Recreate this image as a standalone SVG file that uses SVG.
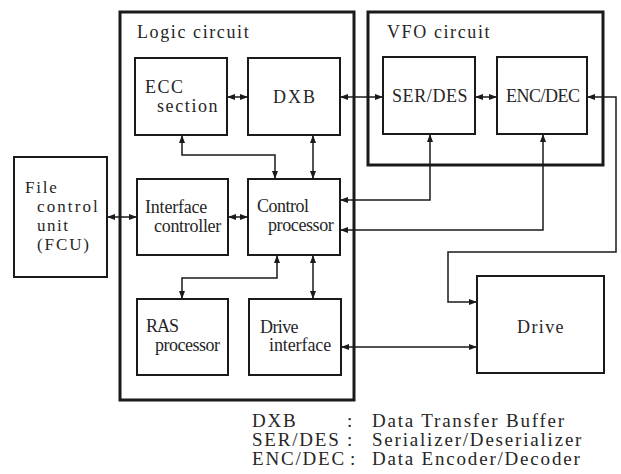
<svg xmlns="http://www.w3.org/2000/svg" width="621" height="474" viewBox="0 0 621 474">
<style>
.bg{fill:#fff}
.box{fill:none;stroke:#1a1a1a;stroke-width:2}
.cont{fill:none;stroke:#1a1a1a;stroke-width:3}
.t{font-family:"Liberation Serif","Times New Roman",serif;font-size:18px;fill:#262626}
.tf{font-family:"Liberation Serif","Times New Roman",serif;font-size:17px;fill:#262626}
.ti{font-family:"Liberation Serif","Times New Roman",serif;font-size:18px;fill:#262626;letter-spacing:1.6px}
.lg{font-family:"Liberation Serif","Times New Roman",serif;font-size:19px;fill:#262626;letter-spacing:1.8px}
.c{fill:none;stroke:#1a1a1a;stroke-width:1.5;marker-start:url(#ah);marker-end:url(#ah)}
</style>
<defs>
<marker id="ah" viewBox="0 0 8 6" refX="8" refY="3" markerWidth="8" markerHeight="6" markerUnits="userSpaceOnUse" orient="auto-start-reverse">
<path d="M0,0 L8,3 L0,6 z" fill="#1a1a1a"/>
</marker>
</defs>
<rect class="bg" x="0" y="0" width="621" height="474"/>

<g id="logic-circuit">
<rect class="cont" x="120" y="12" width="234" height="388"/>
<text class="ti" x="137" y="38">Logic circuit</text>
</g>
<g id="vfo-circuit">
<rect class="cont" x="368" y="12" width="235" height="153"/>
<text class="ti" x="387" y="38">VFO circuit</text>
</g>
<g id="ecc">
<rect class="box" x="135" y="58" width="92" height="77"/>
<text class="t" x="145" y="93" letter-spacing="1.5">ECC</text>
<text class="t" x="157" y="112" letter-spacing="1.6">section</text>
</g>
<g id="dxb">
<rect class="box" x="248" y="58" width="92" height="77"/>
<text class="t" x="273" y="103" letter-spacing="2">DXB</text>
</g>
<g id="serdes">
<rect class="box" x="383" y="57" width="92" height="77"/>
<text class="t" x="392" y="102" letter-spacing="0.6">SER/DES</text>
</g>
<g id="encdec">
<rect class="box" x="497" y="57" width="90" height="77"/>
<text class="t" x="506" y="102" letter-spacing="-0.5">ENC/DEC</text>
</g>
<g id="fcu">
<rect class="box" x="14" y="157" width="93" height="120"/>
<text class="tf" x="25" y="193" letter-spacing="1.8">File</text>
<text class="tf" x="37" y="212" letter-spacing="2.1">control</text>
<text class="tf" x="37" y="231" letter-spacing="1.5">unit</text>
<text class="tf" x="37" y="250" letter-spacing="1.9">(FCU)</text>
</g>
<g id="interface-controller">
<rect class="box" x="137" y="179" width="91" height="76"/>
<text class="t" x="145" y="213" letter-spacing="-0.2">Interface</text>
<text class="t" x="154" y="232" letter-spacing="-0.3">controller</text>
</g>
<g id="control-processor">
<rect class="box" x="248" y="179" width="92" height="76"/>
<text class="t" x="257" y="212" letter-spacing="-0.5">Control</text>
<text class="t" x="268" y="231" letter-spacing="-0.4">processor</text>
</g>
<g id="ras">
<rect class="box" x="137" y="299" width="91" height="76"/>
<text class="t" x="146" y="332" letter-spacing="-1">RAS</text>
<text class="t" x="155" y="351" letter-spacing="-0.5">processor</text>
</g>
<g id="drive-interface">
<rect class="box" x="249" y="299" width="92" height="76"/>
<text class="t" x="260" y="333" letter-spacing="-0.6">Drive</text>
<text class="t" x="269" y="351" letter-spacing="-0.1">interface</text>
</g>
<g id="drive">
<rect class="box" x="477" y="276" width="127" height="97"/>
<text class="t" x="517" y="333" letter-spacing="1.4">Drive</text>
</g>

<g id="connectors">
<path class="c" d="M227,97 H248"/>
<path class="c" d="M340,97 H383"/>
<path class="c" d="M475,97 H497"/>
<path class="c" d="M587,97 H616 V252 H448 V302 H477"/>
<path class="c" d="M313,135 V179"/>
<path class="c" d="M182,135 V155 H275 V179"/>
<path class="c" d="M107,217 H137"/>
<path class="c" d="M228,217 H248"/>
<path class="c" d="M430,134 V200 H340"/>
<path class="c" d="M543,134 V230 H340"/>
<path class="c" d="M277,255 V278 H182 V299"/>
<path class="c" d="M313,255 V299"/>
<path class="c" d="M341,347 H477"/>
</g>

<g id="legend">
<text class="lg" x="252" y="427">DXB</text>
<text class="lg" x="347" y="427">:</text>
<text class="lg" x="372" y="427">Data Transfer Buffer</text>
<text class="lg" x="252" y="446">SER/DES</text>
<text class="lg" x="347" y="446">:</text>
<text class="lg" x="372" y="446">Serializer/Deserializer</text>
<text class="lg" x="252" y="465">ENC/DEC</text>
<text class="lg" x="350" y="465">:</text>
<text class="lg" x="372" y="465">Data Encoder/Decoder</text>
</g>
</svg>
